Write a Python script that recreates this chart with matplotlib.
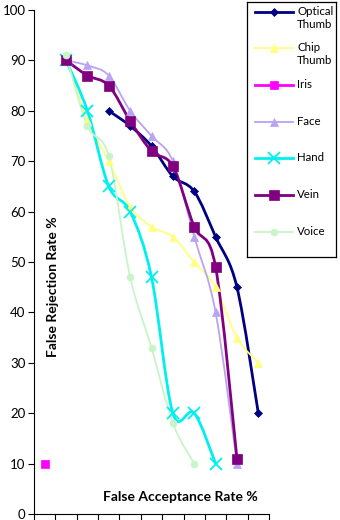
#!/usr/bin/env python3
# FAR vs FRR for several biometric methods, Excel-style smoothed line chart.

import numpy as np
import matplotlib
matplotlib.use("Agg")
import matplotlib.pyplot as plt
from matplotlib.path import Path
from matplotlib.patches import PathPatch

plt.rcParams['font.family'] = ['Lato', 'DejaVu Sans']

# Category positions along the (unlabelled) x axis.
n_cats = 11
positions = list(range(n_cats))

# Series values (None where a series has no point).
optical_thumb = [None, None, None, 80, 77, 73, 67, 64, 55, 45, 20]
chip_thumb = [None, 91, 78, 70, 61, 57, 55, 50, 45, 35, 30]
iris = [10, None, None, None, None, None, None, None, None, None, None]
face = [None, 90, 89, 87, 80, 75, 70, 55, 40, 10, None]
hand = [None, 90, 80, 65, 60, 47, 20, 20, 10, None, None]
vein = [None, 90, 87, 85, 78, 72, 69, 57, 49, 11, None]
voice = [None, 91, 77, 71, 47, 33, 18, 10, None, None, None]

labels = ["Optical\nThumb", "Chip\nThumb", "Iris", "Face", "Hand", "Vein", "Voice"]
series = [optical_thumb, chip_thumb, iris, face, hand, vein, voice]

# colour, line width, marker, marker size
styles = [
    ("#000080", 2.0, "D", 4.5),
    ("#FFFF80", 1.3, "^", 6),
    ("#FF00FF", 2.0, "s", 6),
    ("#B9A3F2", 1.3, "^", 6),
    ("#00F0F0", 2.0, "x", 8),
    ("#800080", 2.0, "s", 7),
    ("#C8F5C8", 1.3, "o", 5),
]


def smooth_path(xs, ys):
    ''' Catmull-Rom style Bezier path through the points, like Excel smoothing.'''
    pts = np.column_stack([xs, ys]).astype(float)
    verts = [pts[0]]
    codes = [Path.MOVETO]
    n = len(pts)
    for i in range(n - 1):
        p0 = pts[max(i - 1, 0)]
        p1 = pts[i]
        p2 = pts[i + 1]
        p3 = pts[min(i + 2, n - 1)]
        verts += [p1 + (p2 - p0) / 6, p2 - (p3 - p1) / 6, p2]
        codes += [Path.CURVE4] * 3
    return Path(verts, codes)


fig = plt.figure(figsize=(3.4, 5.2), dpi=100)
ax = fig.add_axes([34 / 340, 1 - 514 / 520, 235 / 340, 504 / 520])

for vals, (col, lw, mk, ms) in zip(series, styles):
    xs = [p for p, v in zip(positions, vals) if v is not None]
    ys = [v for v in vals if v is not None]
    if len(xs) > 1:
        ax.add_patch(PathPatch(smooth_path(xs, ys), fill=False, edgecolor=col,
                               lw=lw, capstyle='round', joinstyle='round', zorder=2))
    mew = 1.3 if mk == "x" else 0.5
    ax.plot(xs, ys, linestyle='none', marker=mk, markersize=ms, color=col,
            markeredgecolor=col, markeredgewidth=mew, zorder=3)

ax.set_xlim(-0.5, n_cats - 0.5)
ax.set_ylim(0, 100)
ax.set_xticks(np.arange(-0.5, n_cats, 1.0))
ax.set_xticklabels([])
ax.set_yticks(range(0, 101, 10))
ax.tick_params(axis='y', direction='out', length=4, width=0.8, labelsize=9.5, pad=2)
ax.tick_params(axis='x', direction='out', length=5, width=0.8)
ax.spines['top'].set_visible(False)
ax.spines['right'].set_visible(False)
ax.spines['left'].set_linewidth(0.8)
ax.spines['bottom'].set_linewidth(0.8)
ax.patch.set_visible(False)

ax.text(0.081, 0.451, "False Rejection Rate %", transform=ax.transAxes, rotation=90,
        ha='center', va='center', fontsize=10, fontweight='bold')
ax.text(0.621, 0.034, "False Acceptance Rate %", transform=ax.transAxes,
        ha='center', va='center', fontsize=10, fontweight='bold')

# Legend drawn by hand so two-line labels align with their first line.
lax = fig.add_axes([247 / 340, 1 - 257 / 520, 89 / 340, 255 / 520])
lax.set_xlim(247, 336)
lax.set_ylim(257, 2)
lax.set_xticks([])
lax.set_yticks([])
for s in lax.spines.values():
    s.set_linewidth(0.9)
    s.set_color("black")
entry_y = [12, 48, 85, 122, 158, 195, 232]
for y, lab, (col, lw, mk, ms) in zip(entry_y, labels, styles):
    lax.plot([255, 293], [y, y], color=col, lw=lw)
    mew = 1.3 if mk == "x" else 0.5
    lax.plot([274], [y], marker=mk, markersize=ms, color=col,
             markeredgecolor=col, markeredgewidth=mew, linestyle='none')
    lax.text(297, y - 6, lab, ha='left', va='top', fontsize=8.3, linespacing=1.25)

fig.savefig("out.png", dpi=100)
